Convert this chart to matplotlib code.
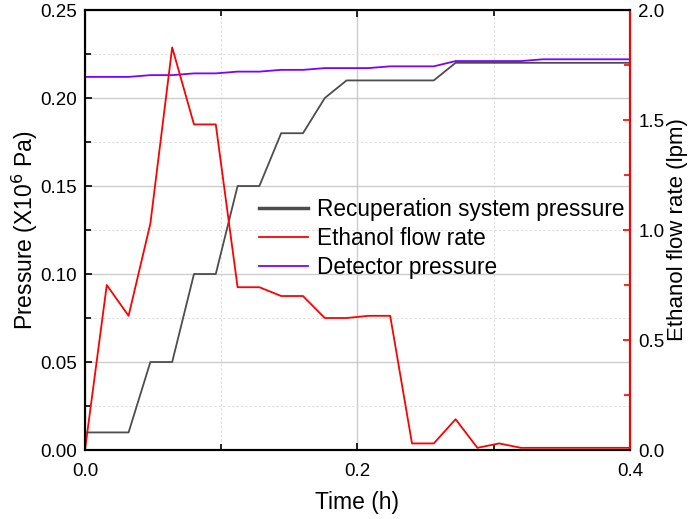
import matplotlib.pyplot as plt
from matplotlib.lines import Line2D
from matplotlib.ticker import MultipleLocator

plt.rcParams['font.family'] = ['Liberation Sans', 'DejaVu Sans']

# time (h)
time_h = [0.000, 0.016, 0.032, 0.048, 0.064, 0.080, 0.096, 0.112, 0.128, 0.144,
          0.160, 0.176, 0.192, 0.208, 0.224, 0.240, 0.256, 0.272, 0.288, 0.304,
          0.320, 0.336, 0.352, 0.368, 0.384, 0.400]
# recuperation system pressure (X10^6 Pa)
recup_p = [0.01, 0.01, 0.01, 0.05, 0.05, 0.10, 0.10, 0.15, 0.15, 0.18,
           0.18, 0.20, 0.21, 0.21, 0.21, 0.21, 0.21, 0.22, 0.22, 0.22,
           0.22, 0.22, 0.22, 0.22, 0.22, 0.22]
# detector pressure (X10^6 Pa)
detector_p = [0.212, 0.212, 0.212, 0.213, 0.213, 0.214, 0.214, 0.215, 0.215, 0.216,
              0.216, 0.217, 0.217, 0.217, 0.218, 0.218, 0.218, 0.221, 0.221, 0.221,
              0.221, 0.222, 0.222, 0.222, 0.222, 0.222]
# ethanol flow rate (lpm)
ethanol = [0.00, 0.75, 0.61, 1.03, 1.83, 1.48, 1.48, 0.74, 0.74, 0.70,
           0.70, 0.60, 0.60, 0.61, 0.61, 0.03, 0.03, 0.14, 0.01, 0.03,
           0.01, 0.01, 0.01, 0.01, 0.01, 0.01]

gray = '#4d4d4d'
purple = '#7F00FF'

fig = plt.figure(figsize=(6.92, 5.19), dpi=100)
ax = fig.add_axes([0.1228, 0.1329, 0.7876, 0.8478])
ax2 = ax.twinx()

ax.plot(time_h, recup_p, color=gray, lw=1.3)
ax.plot(time_h, detector_p, color=purple, lw=1.3)
ax2.plot(time_h, ethanol, color='red', lw=1.3)

ax.set_xlim(0, 0.4)
ax.set_ylim(0, 0.25)
ax2.set_ylim(0, 2.0)

ax.xaxis.set_major_locator(MultipleLocator(0.2))
ax.xaxis.set_minor_locator(MultipleLocator(0.1))
ax.yaxis.set_major_locator(MultipleLocator(0.05))
ax.yaxis.set_minor_locator(MultipleLocator(0.025))
ax2.yaxis.set_major_locator(MultipleLocator(0.5))
ax2.yaxis.set_minor_locator(MultipleLocator(0.25))

ax.xaxis.set_major_formatter(lambda v, p: '%.1f' % v)
ax.yaxis.set_major_formatter(lambda v, p: '%.2f' % v)
ax2.yaxis.set_major_formatter(lambda v, p: '%.1f' % v)

ax.grid(which='major', color='#cccccc', lw=1.0, ls='-')
ax.grid(which='minor', color='#dddddd', lw=0.8, ls=(0, (2, 2)))
ax.set_axisbelow(True)

ax.tick_params(which='both', direction='in', top=True, right=False,
               labelsize=13.5, width=1.2, colors='black')
ax.tick_params(which='major', length=5)
ax.tick_params(which='minor', length=4)
ax.tick_params(axis='x', which='both', pad=9)
ax.tick_params(axis='y', which='both', pad=6)
ax2.tick_params(which='both', direction='in', color='red', width=1.2,
                labelsize=13.5, labelcolor='black', pad=6)
ax2.tick_params(which='major', length=5)
ax2.tick_params(which='minor', length=4)

for s in ax.spines.values():
    s.set_linewidth(1.5)
for s in ['left', 'top', 'bottom']:
    ax2.spines[s].set_linewidth(1.5)
ax2.spines['right'].set_color('red')
ax2.spines['right'].set_linewidth(1.5)

ax.set_xlabel('Time (h)', fontsize=16.5, labelpad=8)
ax.set_ylabel('Pressure (X10$^6$ Pa)', fontsize=16.5, labelpad=0)
ax2.set_ylabel('Ethanol flow rate (lpm)', fontsize=16, labelpad=2)

handles = [Line2D([], [], color=gray, lw=2.5),
           Line2D([], [], color='red', lw=1.3),
           Line2D([], [], color=purple, lw=1.3)]
labels = ['Recuperation system pressure', 'Ethanol flow rate', 'Detector pressure']
ax2.legend(handles, labels, loc='upper left', bbox_to_anchor=(0.302, 0.594),
           frameon=False, fontsize=16.3, handlelength=2.2, handletextpad=0.4,
           labelspacing=0.28, borderaxespad=0)

fig.savefig('out.png', dpi=100)
